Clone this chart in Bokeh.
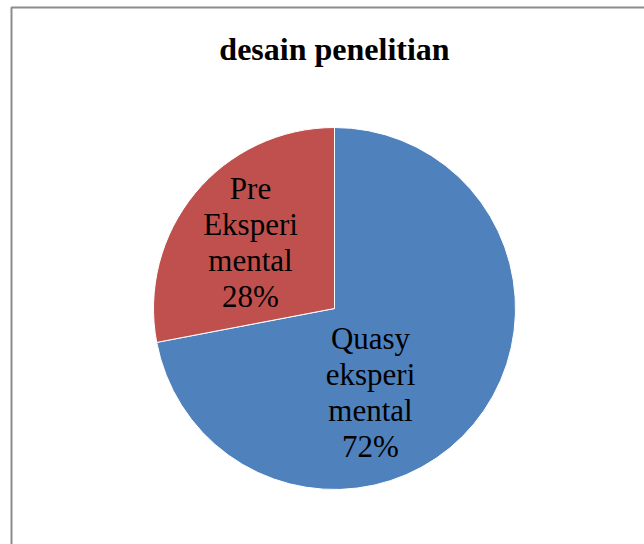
import math
from bokeh.plotting import figure
from bokeh.models import Range1d, ColumnDataSource
from bokeh.core.properties import value
from bokeh.embed import file_html
from bokeh.resources import INLINE

# Data
categories = ["Quasy\neksperi\nmental", "Pre\nEksperi\nmental"]
shares = [72, 28]
colors = ["#4F81BD", "#C0504D"]
title_text = "desain penelitian"

W, H = 644, 544
cx, cy, r = 334, H - 308, 181

p = figure(width=W, height=H, output_backend="svg", toolbar_location=None,
           x_range=Range1d(0, W), y_range=Range1d(0, H), min_border=0)
p.axis.visible = False
p.grid.visible = False
p.outline_line_color = None
p.background_fill_color = "white"
p.border_fill_color = "white"

# chart-area frame
p.quad(left=[11], right=[W + 20], top=[H - 7], bottom=[-20],
       fill_color=None, line_color="#8c8c8c", line_width=2)

# slices: start at 12 o'clock, run clockwise
total = sum(shares)
starts, ends, cum = [], [], 0.0
for s in shares:
    starts.append(math.pi / 2 - 2 * math.pi * cum / total)
    cum += s
    ends.append(math.pi / 2 - 2 * math.pi * cum / total)

src = ColumnDataSource(dict(start=starts, end=ends, color=colors))
p.wedge(x=cx, y=cy, radius=r, start_angle="start", end_angle="end",
        direction="clock", fill_color="color", line_color="white",
        line_width=1, source=src)

# data labels, placed inside each slice
label_offsets = [(36, -84), (-84, 66)]
lx = [cx + dx for dx, _ in label_offsets]
ly = [cy + dy for _, dy in label_offsets]
texts = [f"{c}\n{s}%" for c, s in zip(categories, shares)]
p.text(x=lx, y=ly, text=texts, text_align="center", text_baseline="middle",
       text_font=value("Liberation Serif"), text_font_size="31px",
       text_color="black", text_line_height=1.03)

# title
p.text(x=[cx], y=[H - 48], text=[title_text], text_align="center",
       text_baseline="middle", text_font=value("Liberation Serif"),
       text_font_style="bold", text_font_size="32px", text_color="black")

open("out.html", "w").write(file_html(p, INLINE))
